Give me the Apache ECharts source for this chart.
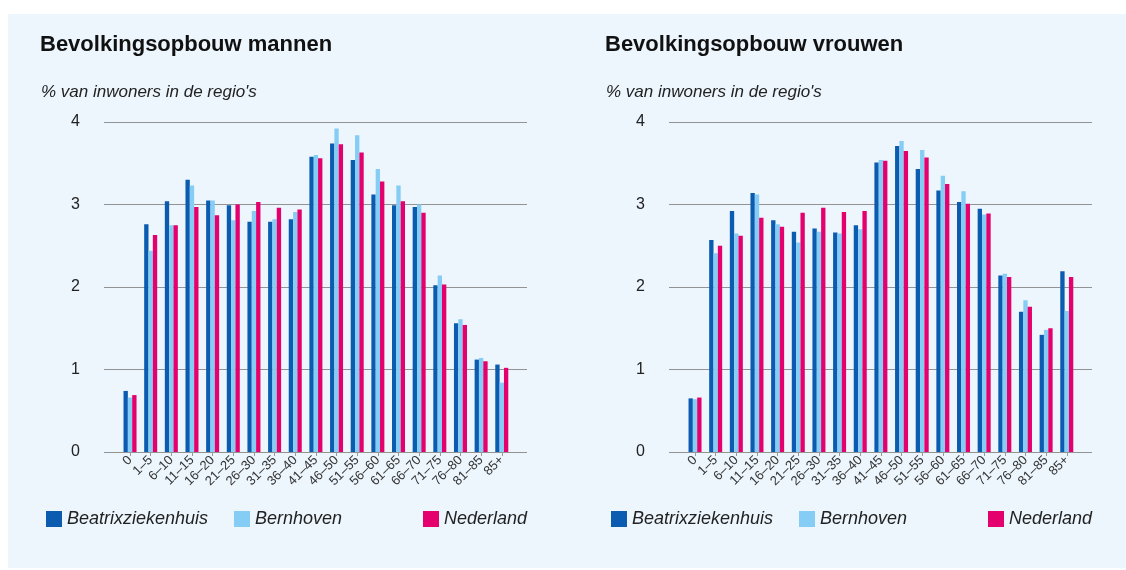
<!DOCTYPE html>
<html>
<head>
<meta charset="utf-8">
<script src="https://cdn.jsdelivr.net/npm/echarts@6/dist/echarts.min.js"></script>
<style>
  body { margin: 0; background: #ffffff; }
  .panel { position: absolute; left: 8px; top: 14px; width: 1118px; height: 554px; background: #edf6fd; }
  .chart { position: absolute; left: 0; top: 0; width: 1126px; height: 570px; }
</style>
</head>
<body>
<div class="panel"></div>
<div class="chart"></div>
<script>
// leeftijdsgroepen
var categories = ['0', '1–5', '6–10', '11–15', '16–20', '21–25', '26–30', '31–35', '36–40', '41–45',
  '46–50', '51–55', '56–60', '61–65', '66–70', '71–75', '76–80', '81–85', '85+'];
var seriesNames = ['Beatrixziekenhuis', 'Bernhoven', 'Nederland'];
var yTicks = [0, 1, 2, 3, 4];

// mannen
var mannenBeatrix = [0.74, 2.76, 3.04, 3.30, 3.05, 2.99, 2.79, 2.79, 2.82, 3.58, 3.74, 3.54, 3.12, 2.99, 2.97, 2.02, 1.56, 1.12, 1.06];
var mannenBernhoven = [0.66, 2.44, 2.75, 3.23, 3.05, 2.81, 2.92, 2.82, 2.91, 3.60, 3.92, 3.84, 3.43, 3.23, 3.00, 2.14, 1.61, 1.14, 0.84];
var mannenNederland = [0.69, 2.63, 2.75, 2.97, 2.87, 3.00, 3.03, 2.96, 2.94, 3.56, 3.73, 3.63, 3.28, 3.04, 2.90, 2.03, 1.54, 1.10, 1.02];

// vrouwen
var vrouwenBeatrix = [0.65, 2.57, 2.92, 3.14, 2.81, 2.67, 2.71, 2.66, 2.75, 3.51, 3.71, 3.43, 3.17, 3.03, 2.95, 2.14, 1.70, 1.42, 2.19];
var vrouwenBernhoven = [0.64, 2.41, 2.65, 3.12, 2.76, 2.54, 2.67, 2.65, 2.70, 3.54, 3.77, 3.66, 3.35, 3.16, 2.88, 2.16, 1.84, 1.48, 1.71];
var vrouwenNederland = [0.66, 2.50, 2.62, 2.84, 2.73, 2.90, 2.96, 2.91, 2.92, 3.53, 3.65, 3.57, 3.25, 3.01, 2.89, 2.12, 1.76, 1.50, 2.12];

var colors = ['#0b5bb1', '#86cdf6', '#e4006d'];
var font = 'Liberation Sans, Arial, Helvetica, sans-serif';

var chart = echarts.init(document.querySelector('.chart'));

// twee panelen: buitenste grid voor rasterlijnen, binnenste voor de staven
function panel(offset, idx, titleText, data) {
  var outer = idx * 2, inner = idx * 2 + 1;
  return {
    titles: [
      { text: titleText, left: 40 + offset, top: 34, padding: 0,
        textStyle: { fontFamily: font, fontSize: 22, fontWeight: 'bold', color: '#111' } },
      { text: "% van inwoners in de regio's", left: 41 + offset, top: 84, padding: 0,
        textStyle: { fontFamily: font, fontSize: 17, fontStyle: 'italic', fontWeight: 'normal', color: '#222' } }
    ],
    grids: [
      { left: 104 + offset, top: 122, width: 423, height: 330 },
      { left: 119.7 + offset, top: 122, width: 392.4, height: 330 }
    ],
    xAxes: [
      { gridIndex: outer, type: 'value', min: 0, max: 1, show: false },
      { gridIndex: inner, type: 'category', data: categories,
        axisLine: { show: false },
        axisTick: { show: true, alignWithLabel: true, length: 4, lineStyle: { color: '#999' } },
        axisLabel: { rotate: 45, margin: 6, fontFamily: font, fontSize: 13, color: '#333', interval: 0 } }
    ],
    yAxes: [
      { gridIndex: outer, type: 'value', min: yTicks[0], max: yTicks[yTicks.length - 1], interval: 1,
        axisLine: { show: false }, axisTick: { show: false },
        axisLabel: { margin: 24, fontFamily: font, fontSize: 16, color: '#222' },
        splitLine: { show: true, lineStyle: { color: '#939393', width: 1.2 } } },
      { gridIndex: inner, type: 'value', min: 0, max: 4, show: false }
    ],
    legends: seriesNames.map(function (name, i) {
      var lefts = [46, 234, 423];
      return { data: [name], left: lefts[i] + offset, top: 510, padding: 0, icon: 'rect',
        itemWidth: 16, itemHeight: 16, selectedMode: false,
        textStyle: { fontFamily: font, fontSize: 18, fontStyle: 'italic', color: '#222' } };
    }),
    series: data.map(function (vals, i) {
      return { name: seriesNames[i], type: 'bar', xAxisIndex: inner, yAxisIndex: inner,
        data: vals, barGap: '0%', barCategoryGap: '37%', itemStyle: { color: colors[i] } };
    })
  };
}

var left = panel(0, 0, 'Bevolkingsopbouw mannen', [mannenBeatrix, mannenBernhoven, mannenNederland]);
var right = panel(565, 1, 'Bevolkingsopbouw vrouwen', [vrouwenBeatrix, vrouwenBernhoven, vrouwenNederland]);

var option = {
  animation: false,
  color: colors,
  title: left.titles.concat(right.titles),
  legend: left.legends.concat(right.legends),
  grid: left.grids.concat(right.grids),
  xAxis: left.xAxes.concat(right.xAxes),
  yAxis: left.yAxes.concat(right.yAxes),
  series: left.series.concat(right.series)
};

chart.setOption(option);
</script>
</body>
</html>
